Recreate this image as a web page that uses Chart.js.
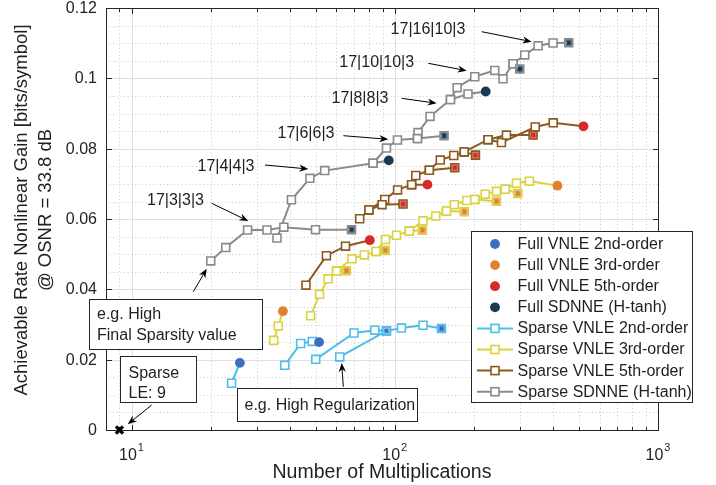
<!DOCTYPE html>
<html>
<head>
<meta charset="utf-8">
<script src="https://cdn.jsdelivr.net/npm/chart.js@4/dist/chart.umd.min.js"></script>
<style>
  html, body { margin: 0; padding: 0; background: #ffffff; }
  #wrap { width: 716px; height: 485px; }
</style>
</head>
<body>
<div id="wrap"><canvas id="chart" width="716" height="485"></canvas></div>
<script>
// ---- axis ticks ----
const xMajorTicks = [10, 100, 1000];
const xTickExponents = ['1', '2', '3'];
const yTickValues = [0, 0.02, 0.04, 0.06, 0.08, 0.1, 0.12];
const yTickLabels = ['0', '0.02', '0.04', '0.06', '0.08', '0.1', '0.12'];

// ---- sparse pruning sweeps: [multiplications, gain]; each list ends at its full model ----
const sparseVnle2 = [
  [[24.0, 0.0133], [25.8, 0.0191]],
  [[38.2, 0.0184], [43.9, 0.0246], [48.6, 0.0252], [51.6, 0.0250]],
  [[50.1, 0.0201], [70.0, 0.0276], [84.0, 0.0284], [93.0, 0.0282]],
  [[61.8, 0.0208], [93.0, 0.0282], [106.0, 0.0290], [128.1, 0.0298], [150.4, 0.0289]]
];
const sparseVnle3 = [
  [[34.7, 0.0255], [36.1, 0.0296], [37.6, 0.0338]],
  [[47.9, 0.0325], [51.8, 0.0386], [55.8, 0.0430], [60.1, 0.0452], [65.5, 0.0453]],
  [[60.1, 0.0452], [68.7, 0.0487], [76.6, 0.0498], [84.9, 0.0508], [92.0, 0.0511]],
  [[84.9, 0.0508], [92.2, 0.0542], [101.5, 0.0554], [113.6, 0.0566], [127.4, 0.0568]],
  [[113.6, 0.0566], [128.1, 0.0595], [143.1, 0.0609], [157.2, 0.0623], [183.6, 0.0621]],
  [[157.2, 0.0623], [168.3, 0.0641], [187.7, 0.0653], [201.3, 0.0656], [243.4, 0.0651]],
  [[201.3, 0.0656], [220.6, 0.0671], [243.4, 0.0679], [262.9, 0.0685], [293.2, 0.0673]],
  [[262.9, 0.0685], [289.9, 0.0702], [324.8, 0.0708], [414.9, 0.0695]]
];
const sparseVnle5 = [
  [[46.0, 0.0412], [55.0, 0.0496], [65.0, 0.0523], [80.4, 0.0540]],
  [[73.6, 0.0601], [79.8, 0.0626], [89.5, 0.0641], [107.5, 0.0643]],
  [[79.8, 0.0626], [91.6, 0.0656], [102.5, 0.0683], [115.9, 0.0698], [133.1, 0.0698]],
  [[115.9, 0.0698], [120.2, 0.0724], [135.3, 0.0739], [169.0, 0.0746]],
  [[135.3, 0.0739], [148.9, 0.0768], [167.5, 0.0781], [183.6, 0.0791], [202.6, 0.0782]],
  [[183.6, 0.0791], [226.1, 0.0826], [265.6, 0.0839], [335.3, 0.0839]],
  [[226.1, 0.0826], [254.3, 0.0818], [341.8, 0.0862], [399.9, 0.0874], [521.0, 0.0864]]
];
const sparseSdnne = [
  [[20.0, 0.0481], [22.8, 0.0519], [27.6, 0.0569], [32.7, 0.0569], [37.9, 0.0577], [50.0, 0.0570], [68.5, 0.0570]],
  [[35.7, 0.0546], [40.5, 0.0655], [47.6, 0.0716], [54.2, 0.0738], [82.7, 0.0759], [94.9, 0.0767]],
  [[82.7, 0.0759], [93.0, 0.0802], [102.4, 0.0825], [122.0, 0.0829], [153.9, 0.0837]],
  [[122.0, 0.0829], [122.6, 0.0846], [136.2, 0.0892], [162.8, 0.0940], [189.8, 0.0956], [221.6, 0.0963]],
  [[162.8, 0.0940], [172.5, 0.0974], [201.3, 0.1005], [239.8, 0.1023], [257.8, 0.0999], [281.4, 0.1042], [298.4, 0.1027]],
  [[281.4, 0.1042], [311.7, 0.1067], [350.3, 0.1093], [399.2, 0.1101], [458.0, 0.1102]]
];

// ---- full (unpruned) models ----
const fullVnle2Dots = [[25.8, 0.0191], [51.6, 0.0250]];
const fullVnle2Ends = [[93.0, 0.0282], [150.4, 0.0289]];
const fullVnle3Dots = [[37.6, 0.0338], [414.9, 0.0695]];
const fullVnle3Ends = [[65.5, 0.0453], [92.0, 0.0511], [127.4, 0.0568], [183.6, 0.0621], [243.4, 0.0651], [293.2, 0.0673]];
const fullVnle5Dots = [[80.4, 0.0540], [133.1, 0.0698], [521.0, 0.0864]];
const fullVnle5Ends = [[107.5, 0.0643], [169.0, 0.0746], [202.6, 0.0782], [335.3, 0.0839]];
const fullSdnneDots = [[94.9, 0.0767], [221.6, 0.0963]];
const fullSdnneEnds = [[68.5, 0.0570], [153.9, 0.0837], [298.4, 0.1027], [458.0, 0.1102]];

// linear equalizer reference
const sparseLe = [[9, 0]];

const legendLabels = [
  'Full VNLE 2nd-order', 'Full VNLE 3rd-order', 'Full VNLE 5th-order', 'Full SDNNE (H-tanh)',
  'Sparse VNLE 2nd-order', 'Sparse VNLE 3rd-order', 'Sparse VNLE 5th-order', 'Sparse SDNNE (H-tanh)'
];
const topologyLabels = ['17|3|3|3', '17|4|4|3', '17|6|6|3', '17|8|8|3', '17|10|10|3', '17|16|10|3'];

// ---- styling ----
const COL = {
  blueFull: '#3c6ec0', orangeFull: '#e1802e', redFull: '#d62a2b', navyFull: '#1b3a52',
  blueSparse: '#4dbdeb', yellowSparse: '#d9d33f', brownSparse: '#8a5a1d', graySparse: '#8a8a8a',
  axis: '#262626', text: '#1f1f1f'
};
const FONT = '"Liberation Sans", Arial, Helvetica, sans-serif';

const toPts = arr => arr.map(([x, y]) => ({ x, y }));
const hit = (raw, list) => !!raw && list.some(p => Math.abs(raw.x - p[0]) < 1e-9 && Math.abs(raw.y - p[1]) < 1e-9);

function sparseSets(curves, color, dots, ends) {
  return curves.map(c => ({
    data: toPts(c),
    showLine: true,
    borderColor: color,
    borderWidth: 2,
    pointStyle: 'rect',
    pointBorderColor: color,
    pointBorderWidth: 1.6,
    pointRadius: ctx => hit(ctx.raw, dots) ? 0 : 5.6,
    pointBackgroundColor: ctx => hit(ctx.raw, ends) ? 'rgba(255,255,255,0.3)' : '#ffffff',
    order: 3,
    clip: false
  }));
}
function fullSets(dots, ends, color) {
  return [
    { data: toPts(ends), pointStyle: 'circle', pointRadius: 4.3, pointBorderWidth: 0, pointBackgroundColor: color, order: 5 },
    { data: toPts(ends), pointStyle: 'rect', pointRadius: 2.8, pointBorderWidth: 0, pointBackgroundColor: color, order: 1 },
    { data: toPts(dots), pointStyle: 'circle', pointRadius: 4.9, pointBorderWidth: 0, pointBackgroundColor: color, order: 1 }
  ];
}

const datasets = [
  ...sparseSets(sparseSdnne, COL.graySparse, fullSdnneDots, fullSdnneEnds),
  ...sparseSets(sparseVnle5, COL.brownSparse, fullVnle5Dots, fullVnle5Ends),
  ...sparseSets(sparseVnle3, COL.yellowSparse, fullVnle3Dots, fullVnle3Ends),
  ...sparseSets(sparseVnle2, COL.blueSparse, fullVnle2Dots, fullVnle2Ends),
  ...fullSets(fullVnle2Dots, fullVnle2Ends, COL.blueFull),
  ...fullSets(fullVnle3Dots, fullVnle3Ends, COL.orangeFull),
  ...fullSets(fullVnle5Dots, fullVnle5Ends, COL.redFull),
  ...fullSets(fullSdnneDots, fullSdnneEnds, COL.navyFull),
  { data: toPts(sparseLe), pointStyle: 'crossRot', pointRadius: 5, pointBorderWidth: 3.2,
    pointBorderColor: '#000000', order: 0, clip: false }
];

// ---- drawing helpers ----
function arrow(ctx, x1, y1, x2, y2) {
  const a = Math.atan2(y2 - y1, x2 - x1), c = Math.cos(a), s = Math.sin(a);
  const L = 9, W = 3.6;
  ctx.beginPath(); ctx.moveTo(x1, y1); ctx.lineTo(x2 - 0.7 * L * c, y2 - 0.7 * L * s); ctx.stroke();
  ctx.beginPath();
  ctx.moveTo(x2, y2);
  ctx.lineTo(x2 - L * c - W * s, y2 - L * s + W * c);
  ctx.lineTo(x2 - 0.7 * L * c, y2 - 0.7 * L * s);
  ctx.lineTo(x2 - L * c + W * s, y2 - L * s - W * c);
  ctx.closePath(); ctx.fill();
}

const topologyNotes = [
  { cx: 175.5, cy: 200.5, from: [211.7, 203.3], to: [248.3, 221.0] },
  { cx: 226.0, cy: 166.7, from: [265.0, 165.0], to: [308.3, 169.0] },
  { cx: 306.0, cy: 133.3, from: [343.3, 135.7], to: [388.3, 139.3] },
  { cx: 360.0, cy: 98.3,  from: [401.7, 98.3],  to: [436.7, 103.3] },
  { cx: 376.7, cy: 62.7,  from: [428.3, 63.3],  to: [466.7, 70.7] },
  { cx: 428.0, cy: 30.0,  from: [481.7, 31.7],  to: [531.7, 41.7] }
];
const boxNotes = [
  { lines: ['e.g. High', 'Final Sparsity value'], x: 89.5, y: 299.5, w: 173, h: 50, tx: 97, ty: [314.5, 335.5],
    from: [193.3, 291.7], to: [206.7, 268.8] },
  { lines: ['Sparse', 'LE: 9'], x: 120.5, y: 356.5, w: 76, h: 46, tx: 128.5, ty: [373.5, 393.5],
    from: [151.7, 405.0], to: [127.8, 424.2] },
  { lines: ['e.g. High Regularization'], x: 237.5, y: 388.5, w: 180, h: 33, tx: 244.5, ty: [405.5],
    from: [343.3, 386.7], to: [341.7, 363.0] }
];

const frame = {
  id: 'frame',
  beforeDatasetsDraw(chart) {
    const { ctx, chartArea: a, scales: { x, y } } = chart;
    ctx.save();
    // minor grid (dotted)
    ctx.strokeStyle = '#c9c9c9'; ctx.lineWidth = 1; ctx.setLineDash([1, 2.6]);
    for (let d = 1; d <= 100; d *= 10) {
      for (let m = 2; m <= 9; m++) {
        const v = m * d;
        if (v <= x.min || v >= x.max || v === 10 || v === 100) continue;
        const px = Math.round(x.getPixelForValue(v)) + 0.5;
        ctx.beginPath(); ctx.moveTo(px, a.top); ctx.lineTo(px, a.bottom); ctx.stroke();
      }
    }
    for (let k = 1; k < 24; k++) {
      if (k % 4 === 0) continue;
      const py = Math.round(y.getPixelForValue(k * 0.005)) + 0.5;
      ctx.beginPath(); ctx.moveTo(a.left, py); ctx.lineTo(a.right, py); ctx.stroke();
    }
    // major grid
    ctx.setLineDash([]); ctx.strokeStyle = '#dfdfdf';
    xMajorTicks.forEach(v => {
      if (v <= x.min || v >= x.max) return;
      const px = Math.round(x.getPixelForValue(v)) + 0.5;
      ctx.beginPath(); ctx.moveTo(px, a.top); ctx.lineTo(px, a.bottom); ctx.stroke();
    });
    yTickValues.forEach(v => {
      if (v <= y.min || v >= y.max) return;
      const py = Math.round(y.getPixelForValue(v)) + 0.5;
      ctx.beginPath(); ctx.moveTo(a.left, py); ctx.lineTo(a.right, py); ctx.stroke();
    });
    // axes box and ticks
    ctx.strokeStyle = COL.axis; ctx.lineWidth = 1;
    const L = Math.round(a.left) + 0.5, R = Math.round(a.right) + 0.5;
    const T = Math.round(a.top) + 0.5, B = Math.round(a.bottom) + 0.5;
    ctx.strokeRect(L, T, R - L, B - T);
    ctx.beginPath();
    for (let d = 1; d <= 100; d *= 10) {
      for (let m = 1; m <= 9; m++) {
        const v = m * d;
        if (v <= x.min || v >= x.max) continue;
        const px = Math.round(x.getPixelForValue(v)) + 0.5;
        const len = m === 1 ? 5.5 : 3.5;
        ctx.moveTo(px, B); ctx.lineTo(px, B - len);
        ctx.moveTo(px, T); ctx.lineTo(px, T + len);
      }
    }
    yTickValues.forEach(v => {
      const py = Math.round(y.getPixelForValue(v)) + 0.5;
      ctx.moveTo(L, py); ctx.lineTo(L + 5.5, py);
      ctx.moveTo(R, py); ctx.lineTo(R - 5.5, py);
    });
    ctx.stroke();
    // tick labels
    ctx.fillStyle = COL.text;
    ctx.font = '16px ' + FONT;
    ctx.textAlign = 'right'; ctx.textBaseline = 'middle';
    yTickValues.forEach((v, i) => ctx.fillText(yTickLabels[i], 97, y.getPixelForValue(v) + 0.5));
    ctx.textAlign = 'left'; ctx.textBaseline = 'alphabetic';
    xMajorTicks.forEach((v, i) => {
      const px = x.getPixelForValue(v);
      ctx.font = '16px ' + FONT; const wb = ctx.measureText('10').width;
      ctx.font = '11px ' + FONT; const we = ctx.measureText(xTickExponents[i]).width;
      const x0 = px - (wb + we + 1) / 2;
      ctx.font = '16px ' + FONT; ctx.fillText('10', x0, 459.5);
      ctx.font = '11px ' + FONT; ctx.fillText(xTickExponents[i], x0 + wb + 1, 451);
    });
    // axis titles
    ctx.textAlign = 'center';
    ctx.font = '19.5px ' + FONT;
    ctx.fillText('Number of Multiplications', (a.left + a.right) / 2, 477.5);
    ctx.font = '18.5px ' + FONT;
    ctx.save();
    ctx.rotate(-Math.PI / 2);
    ctx.textBaseline = 'middle';
    ctx.fillText('Achievable Rate Nonlinear Gain [bits/symbol]', -210, 22);
    ctx.fillText('@ OSNR = 33.8 dB', -210, 46);
    ctx.restore();
    ctx.restore();
  },
  afterDatasetsDraw(chart) {
    const { ctx } = chart;
    ctx.save();
    ctx.fillStyle = '#000'; ctx.strokeStyle = '#000'; ctx.lineWidth = 1;
    ctx.font = '16px ' + FONT; ctx.textAlign = 'center'; ctx.textBaseline = 'middle';
    topologyNotes.forEach((n, i) => {
      ctx.fillStyle = COL.text; ctx.fillText(topologyLabels[i], n.cx, n.cy);
      ctx.fillStyle = '#000'; arrow(ctx, n.from[0], n.from[1], n.to[0], n.to[1]);
    });
    boxNotes.forEach(b => {
      ctx.fillStyle = '#ffffff'; ctx.fillRect(b.x, b.y, b.w, b.h);
      ctx.strokeStyle = COL.axis; ctx.strokeRect(b.x, b.y, b.w, b.h);
      ctx.fillStyle = COL.text; ctx.textAlign = 'left';
      b.lines.forEach((t, i) => ctx.fillText(t, b.tx, b.ty[i]));
      ctx.fillStyle = '#000'; ctx.strokeStyle = '#000';
      arrow(ctx, b.from[0], b.from[1], b.to[0], b.to[1]);
    });
    // legend
    const lx = 471.5, ly = 231.5, lw = 221, lh = 171;
    ctx.fillStyle = '#ffffff'; ctx.fillRect(lx, ly, lw, lh);
    ctx.strokeStyle = COL.axis; ctx.lineWidth = 1; ctx.strokeRect(lx, ly, lw, lh);
    const swatch = [COL.blueFull, COL.orangeFull, COL.redFull, COL.navyFull,
                    COL.blueSparse, COL.yellowSparse, COL.brownSparse, COL.graySparse];
    legendLabels.forEach((t, i) => {
      const ry = 244 + i * 21.1;
      if (i < 4) {
        ctx.fillStyle = swatch[i];
        ctx.beginPath(); ctx.arc(495, ry, 4.9, 0, Math.PI * 2); ctx.fill();
      } else {
        ctx.strokeStyle = swatch[i]; ctx.lineWidth = 2;
        ctx.beginPath(); ctx.moveTo(477, ry); ctx.lineTo(513, ry); ctx.stroke();
        ctx.fillStyle = '#ffffff'; ctx.lineWidth = 1.6;
        ctx.fillRect(491, ry - 4, 8, 8); ctx.strokeRect(491, ry - 4, 8, 8);
      }
      ctx.fillStyle = COL.text; ctx.textAlign = 'left'; ctx.textBaseline = 'middle';
      ctx.font = '16px ' + FONT;
      ctx.fillText(t, 517.5, ry + 0.5);
    });
    ctx.restore();
  }
};

new Chart(document.getElementById('chart'), {
  type: 'scatter',
  data: { datasets },
  options: {
    responsive: false,
    animation: false,
    events: [],
    layout: { padding: { left: 0, right: 58, top: 7, bottom: 0 } },
    plugins: { legend: { display: false }, tooltip: { enabled: false } },
    scales: {
      x: {
        type: 'logarithmic', min: 8, max: 1000,
        ticks: { display: false }, grid: { display: false }, border: { display: false },
        afterFit(s) { s.height = 55; }
      },
      y: {
        type: 'linear', min: 0, max: 0.12,
        ticks: { display: false }, grid: { display: false }, border: { display: false },
        afterFit(s) { s.width = 106; }
      }
    }
  },
  plugins: [frame]
});
</script>
</body>
</html>
